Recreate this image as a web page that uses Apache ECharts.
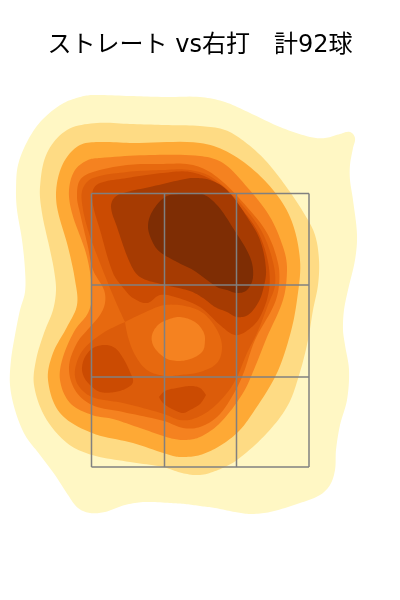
<!DOCTYPE html>
<html><head><meta charset="utf-8">
<style>html,body{margin:0;padding:0;background:#fff}#c{width:400px;height:600px}</style>
<script src="https://cdn.jsdelivr.net/npm/echarts@6/dist/echarts.min.js"></script>
</head><body><div id="c"></div>
<script>
const titleText = "ストレート vs右打　計92球";
const zoneX = [91.5,164.5,236.5,309];
const zoneY = [193.5,285,377,467];
const colors = ["#FFF7C4","#FEDB84","#FEA935","#F58220","#E7690F","#DC5C0A","#CB4B02","#A63B02","#7E2D04"];

const band1 = [[93,95],[130,96],[165,97],[200,97],[225,102],[250,113],[280,127],[310,137],[325,138],[340,134],[350,132],[355,138],[353,148],[350,165],[350,180],[353,200],[357,235],[355,260],[348,290],[344,310],[343,330],[345,345],[349,370],[347,400],[340,425],[336,450],[335,470],[330,485],[320,495],[300,503],[270,512],[250,514],[235,512],[215,508],[200,506],[185,504],[170,503],[145,502],[125,505],[105,512],[90,513],[78,508],[68,495],[55,475],[40,455],[25,435],[15,410],[10,385],[11,360],[15,335],[20,310],[25,292],[25,270],[22,240],[17,210],[16,190],[18,165],[28,140],[42,120],[62,104],[80,97]];
const band2 = [[97,123],[130,124],[165,125],[200,126],[225,130],[245,142],[265,160],[285,185],[305,215],[315,235],[319,260],[318,285],[313,310],[308,340],[300,372],[288,405],[267,433],[237,460],[218,470],[200,475],[182,473],[163,467],[130,462],[92,455],[67,443],[45,417],[34,385],[36,360],[44,333],[53,310],[56,290],[54,270],[50,250],[42,213],[40,187],[47,153],[67,130]];
const band3 = [[100,142],[133,143],[200,143],[233,155],[267,183],[290,217],[300,260],[297,300],[290,335],[276,375],[250,417],[237,433],[218,447],[200,455],[185,457],[173,456],[133,443],[92,433],[60,413],[48,380],[53,353],[67,327],[77,305],[75,280],[68,247],[57,207],[57,183],[65,160],[80,145]];
const band4 = [[100,158],[150,155],[200,156],[223,163],[247,187],[270,217],[284,250],[287,270],[283,300],[267,337],[255,367],[243,393],[220,423],[200,437],[185,440],[170,438],[140,428],[113,419],[92,415],[70,403],[60,380],[63,357],[75,330],[88,313],[92,295],[87,257],[72,213],[69,190],[75,170],[88,160]];
const band5 = [[127,165],[160,164],[193,165],[217,177],[247,207],[267,233],[278,263],[279,285],[274,305],[255,340],[242,377],[230,400],[217,417],[200,427],[183,428],[164,421],[123,412],[92,405],[75,390],[69,367],[77,343],[90,327],[100,315],[105,303],[104,290],[93,270],[88,247],[80,213],[77,197],[80,180],[93,172]];
const band6 = [[127,172],[163,170],[190,170],[213,178],[242,205],[262,232],[273,262],[275,285],[268,305],[257,333],[247,353],[237,377],[227,393],[210,410],[193,419],[180,420],[164,414],[123,403],[92,397],[78,385],[75,370],[83,350],[103,333],[125,322],[115,300],[100,263],[88,230],[82,203],[83,188],[93,178]];
const island5 = [[125,322],[150,310],[165,305],[185,306],[203,313],[217,330],[222,347],[217,363],[200,372],[180,375],[165,376],[147,370],[135,355],[128,337]];
const island4 = [[205,340],[202,352],[187,360],[170,360],[160,354],[153,345],[152,335],[158,325],[167,320],[180,317],[195,322],[203,331]];
const band7a = [[127,178],[163,173],[190,172],[217,183],[240,207],[258,232],[268,262],[269,290],[260,317],[248,330],[235,335],[220,325],[200,307],[175,297],[160,295],[147,303],[133,298],[125,290],[113,273],[100,230],[93,205],[93,190],[100,183]];
const band7b = [[82,368],[85,357],[93,348],[105,345],[115,348],[123,358],[130,372],[133,382],[127,388],[115,392],[100,392],[90,385],[84,377]];
const band7c = [[159,397],[165,391],[177,388],[190,386],[200,388],[206,395],[200,404],[190,410],[183,413],[172,409],[163,403]];
const band8 = [[127,192],[150,187],[180,180],[193,178],[210,180],[227,190],[247,217],[260,240],[266,270],[263,290],[258,303],[248,315],[237,317],[227,312],[215,307],[203,298],[190,291],[165,285],[140,277],[130,263],[117,227],[111,207],[115,197]];
const band9 = [[165,197],[180,194],[202,194],[217,205],[233,228],[250,257],[253,277],[247,290],[237,293],[227,290],[217,287],[193,270],[177,262],[160,252],[153,243],[148,227],[152,212]];

const layers = [
 [band1,0],[band2,1],[band3,2],[band4,3],[band5,4],[band6,5],[island5,4],[island4,3],
 [band7a,6],[band7b,6],[band7c,6],[band8,7],[band9,8]
];

// closed smooth outline through the projected points; very sharp turns stay as corners
function outline(pts){
  const n=pts.length, tan=[], out=[];
  for(let i=0;i<n;i++){
    const p=pts[(i+n-1)%n], c=pts[i], q=pts[(i+1)%n];
    const ax=c[0]-p[0], ay=c[1]-p[1], bx=q[0]-c[0], by=q[1]-c[1];
    const cos=(ax*bx+ay*by)/(Math.hypot(ax,ay)*Math.hypot(bx,by));
    if(cos<0.3){tan.push([0,0]);continue;}
    const dx=q[0]-p[0], dy=q[1]-p[1], l=Math.hypot(dx,dy)||1;
    tan.push([dx/l,dy/l]);
  }
  for(let i=0;i<n;i++){
    const j=(i+1)%n, a=pts[i], b=pts[j], s=Math.hypot(b[0]-a[0],b[1]-a[1])/3;
    const c1=[a[0]+tan[i][0]*s,a[1]+tan[i][1]*s], c2=[b[0]-tan[j][0]*s,b[1]-tan[j][1]*s];
    for(let k=0;k<10;k++){
      const t=k/10,u=1-t;
      out.push([0,1].map(d=>u*u*u*a[d]+3*u*u*t*c1[d]+3*u*t*t*c2[d]+t*t*t*b[d]));
    }
  }
  return out;
}
function polySeries(points, color){
  return {
    type:'custom', coordinateSystem:'cartesian2d', silent:true, clip:false,
    data: points, encode:{x:0,y:1},
    renderItem(params, api){
      if(params.dataIndex !== 0) return null;
      return {type:'polygon', shape:{points:outline(points.map(p=>api.coord(p)))}, style:{fill:color}};
    }
  };
}
const gridSegs = [];
zoneX.forEach(x=>gridSegs.push([x,zoneY[0],x,zoneY[3]]));
zoneY.forEach(y=>gridSegs.push([zoneX[0],y,zoneX[3],y]));
const gridSeries = {
  type:'custom', coordinateSystem:'cartesian2d', silent:true, clip:false, z:5,
  data:gridSegs, encode:{x:[0,2],y:[1,3]},
  renderItem(params, api){
    const a=api.coord([api.value(0),api.value(1)]), b=api.coord([api.value(2),api.value(3)]);
    return {type:'line', shape:{x1:a[0],y1:a[1],x2:b[0],y2:b[1]}, style:{stroke:'#808080',lineWidth:1.5}};
  }
};
const chart = echarts.init(document.getElementById('c'),null,{renderer:'canvas'});
chart.setOption({
  animation:false,
  title:{text:titleText,left:'center',top:29,textStyle:{fontFamily:'"DejaVu Sans","Noto Sans CJK JP"',fontSize:24,fontWeight:'normal',color:'#000'}},
  grid:{left:0,right:0,top:0,bottom:0},
  xAxis:{type:'value',min:0,max:400,show:false},
  yAxis:{type:'value',min:0,max:600,inverse:true,show:false},
  series: layers.map(l=>polySeries(l[0],colors[l[1]])).concat([gridSeries])
});
</script></body></html>
